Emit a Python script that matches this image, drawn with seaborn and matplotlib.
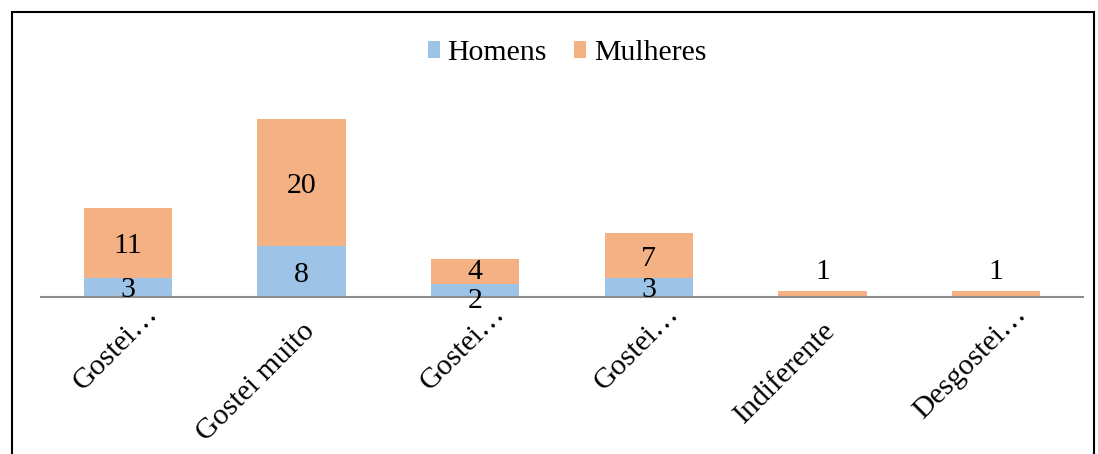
"""
Stacked bars: avaliação por sexo (Homens / Mulheres)
"""

## Import packages
import pandas as pd
import matplotlib
matplotlib.use('Agg')
import matplotlib.pyplot as plt
from matplotlib.patches import Rectangle
from matplotlib.transforms import ScaledTranslation
import seaborn as sns


## Data
categorias = ['Gostei…', 'Gostei muito', 'Gostei…', 'Gostei…', 'Indiferente', 'Desgostei…']
homens = [3, 8, 2, 3, 0, 0]
mulheres = [11, 20, 4, 7, 1, 1]

df = pd.DataFrame({'pos': range(len(categorias)),
                   'Homens': homens,
                   'Mulheres': mulheres})
df['Total'] = df['Homens'] + df['Mulheres']


## Parameters
fsize = 21.5
blue = '#9DC3E6'
orange = '#F4B183'
axis_grey = '#8C8C8C'


## Create figure
sns.set_theme(style='white')
plt.rcParams['font.family'] = ['Liberation Serif', 'DejaVu Serif']
plt.rcParams['text.color'] = 'black'
plt.rcParams['xtick.color'] = 'black'
plt.rcParams['xtick.labelcolor'] = 'black'

fig = plt.figure(figsize=(10.98, 4.54), dpi=100)
ax = fig.add_axes([41/1098, 1 - 297/454, (1083 - 41)/1098, 190.8/454])

# Total bar in orange, Homens drawn on top in blue -> stacked look
sns.barplot(ax=ax, data=df, x='pos', y='Total', color=orange, saturation=1,
            width=0.51, edgecolor='none')
sns.barplot(ax=ax, data=df, x='pos', y='Homens', color=blue, saturation=1,
            width=0.51, edgecolor='none')

# Data labels (small segments: labels pushed apart a bit)
for i, (h, m) in enumerate(zip(homens, mulheres)):
    if h > 0:
        dy = -5 if h < 3 else 0
        ax.annotate(str(h), (i, h / 2), xytext=(0, dy), textcoords='offset points',
                    ha='center', va='center_baseline', fontsize=fsize, color='black')
    if m >= 3:
        dy = 2 if m < 5 else 0
        ax.annotate(str(m), (i, h + m / 2), xytext=(0, dy), textcoords='offset points',
                    ha='center', va='center_baseline', fontsize=fsize, color='black')
    else:
        ax.annotate(str(m), (i, h + m), xytext=(0, 4), textcoords='offset points',
                    ha='center', va='bottom', fontsize=fsize, color='black')

# Axes
ax.set_ylim(0, 30)
ax.set_xlim(-0.5, len(categorias) - 0.5)
ax.set_yticks([])
ax.set_xlabel('')
ax.set_ylabel('')
ax.set_xticks(range(len(categorias)))
ax.set_xticklabels(categorias, rotation=45, ha='right', va='top',
                   rotation_mode='anchor', fontsize=fsize, color='black')
ax.tick_params(axis='x', length=0, pad=15)

# Truncated labels sit a little further along their direction
for lab in ax.get_xticklabels():
    if lab.get_text().endswith('…'):
        lab.set_transform(lab.get_transform() +
                          ScaledTranslation(12/72, 12/72, fig.dpi_scale_trans))

for s in ['top', 'right', 'left']:
    ax.spines[s].set_visible(False)
ax.spines['bottom'].set_color(axis_grey)
ax.spines['bottom'].set_linewidth(1.5)
ax.patch.set_alpha(0)

# Legend
handles = [ax.containers[1][0], ax.containers[0][0]]
fig.legend(handles, ['Homens', 'Mulheres'], loc='center',
           bbox_to_anchor=(567/1098, 1 - 53/454), ncol=2, frameon=False,
           fontsize=fsize, handlelength=0.4, handleheight=0.47,
           handletextpad=0.27, columnspacing=0.9, borderaxespad=0)

# Outer frame of the chart area
fig.add_artist(Rectangle((12/1098, -0.1), (1094 - 12)/1098, 1.1 - 12/454,
                         transform=fig.transFigure, fill=False,
                         edgecolor='black', linewidth=1.5, clip_on=False))

# Save figure
plt.savefig('out.png', dpi=100)
